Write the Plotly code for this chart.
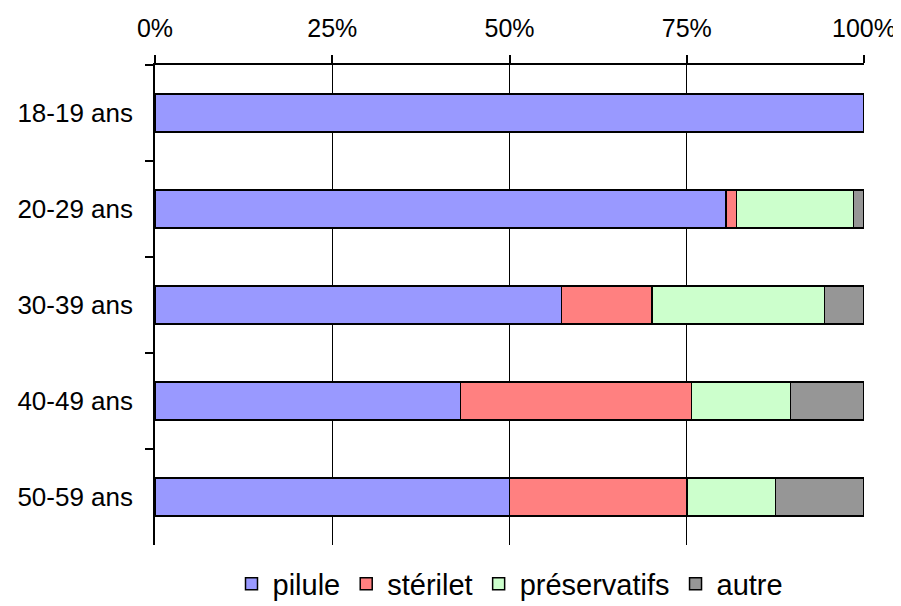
import plotly.graph_objects as go

categories = ["18-19 ans", "20-29 ans", "30-39 ans", "40-49 ans", "50-59 ans"]
pilule = [100, 80.5, 57.3, 43.1, 50.0]
sterilet = [0, 1.5, 12.8, 32.6, 25.0]
preservatifs = [0, 16.5, 24.3, 13.9, 12.5]
autre = [0, 1.5, 5.6, 10.4, 12.5]

series = [
    ("pilule", pilule, "#9999FF"),
    ("stérilet", sterilet, "#FF8080"),
    ("préservatifs", preservatifs, "#CCFFCC"),
    ("autre", autre, "#969696"),
]

fig = go.Figure()
for name, vals, color in series:
    fig.add_trace(go.Bar(
        y=categories, x=vals, name=name, orientation="h",
        marker=dict(color=color, line=dict(color="black", width=1.5)),
        width=0.4,
    ))

font = "Arial, Liberation Sans, sans-serif"
# page body has an 8px default margin, so the figure is sized to fit the window
fig.update_layout(
    barmode="stack",
    width=893, height=598,
    margin=dict(l=147, r=37, t=57, b=61, autoexpand=False),
    paper_bgcolor="white", plot_bgcolor="white",
    font=dict(family=font, size=26, color="black"),
    showlegend=True,
    legend=dict(orientation="h", x=0.5, xanchor="center", y=-0.028, yanchor="top",
                font=dict(size=29), traceorder="normal", itemwidth=32,
                tracegroupgap=0),
)
fig.update_xaxes(
    side="top", range=[0, 100], tickvals=[0, 25, 50, 75, 100],
    ticktext=["0%", "25%", "50%", "75%", "100%"],
    tickfont=dict(size=25),
    showgrid=True, gridcolor="black", gridwidth=1,
    showline=True, linecolor="black", linewidth=1.5,
    ticks="outside", ticklen=8, tickcolor="black", tickwidth=1.5,
    ticklabelstandoff=8, zeroline=False, automargin=False,
)
fig.update_yaxes(
    autorange="reversed", showgrid=False,
    showline=True, linecolor="black", linewidth=1.5,
    ticks="outside", ticklen=8, tickcolor="black", tickwidth=1.5,
    tickson="boundaries", ticklabelstandoff=15, automargin=False,
)
fig.write_html("out.html")
